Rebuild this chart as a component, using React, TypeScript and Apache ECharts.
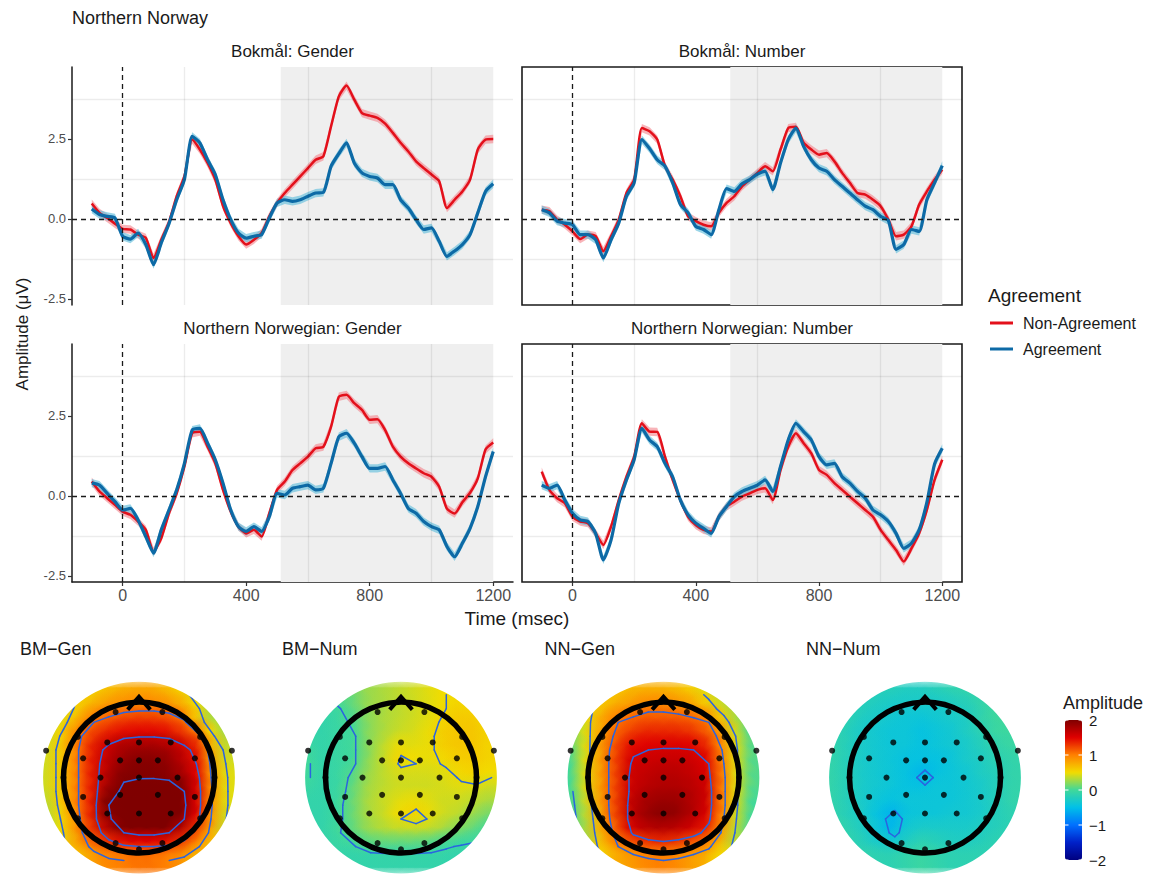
import React, { useEffect, useRef } from 'react';
import * as echarts from 'echarts';

const FONT = '"Liberation Sans", Arial, Helvetica, sans-serif';

// ---------- ERP data ----------
const timeMs = [-100,-75,-50,-25,0,25,50,75,100,125,150,175,200,225,250,275,300,325,350,375,400,425,450,475,500,525,550,575,600,625,650,675,700,725,750,775,800,825,850,875,900,925,950,975,1000,1025,1050,1075,1100,1125,1150,1175,1200];

const bmGenderNonAgreement = [0.48,0.19,0.03,-0.15,-0.31,-0.33,-0.49,-0.59,-1.22,-0.65,-0.1,0.71,1.33,2.48,2.17,1.75,1.23,0.4,-0.13,-0.54,-0.8,-0.65,-0.44,0.08,0.5,0.81,1.07,1.33,1.59,1.85,1.96,2.9,3.83,4.17,3.73,3.31,3.23,3.16,2.98,2.69,2.38,2.11,1.8,1.59,1.39,1.18,0.34,0.6,0.86,1.23,2.17,2.48,2.5];
const bmGenderAgreement = [0.31,0.14,0.08,0.03,-0.54,-0.63,-0.44,-0.8,-1.43,-0.75,-0.15,0.6,1.23,2.58,2.38,1.85,1.39,0.6,-0.02,-0.44,-0.6,-0.54,-0.49,0.03,0.5,0.6,0.55,0.6,0.71,0.81,0.83,1.65,2.04,2.38,1.75,1.44,1.33,1.28,1.07,1.07,0.6,0.34,-0.02,-0.33,-0.28,-0.7,-1.17,-1.0,-0.8,-0.49,0.19,0.86,1.1];

const bmNumberNonAgreement = [0.29,0.24,-0.02,-0.18,-0.39,-0.63,-0.49,-0.54,-1.01,-0.54,-0.02,0.81,1.23,2.84,2.74,2.48,1.65,1.23,0.71,0.08,-0.07,-0.18,-0.23,0.19,0.5,0.71,1.02,1.23,1.44,1.65,1.49,2.17,2.84,2.88,2.38,2.17,2.01,2.06,1.8,1.44,1.13,0.81,0.76,0.6,0.4,-0.02,-0.54,-0.49,-0.23,0.45,0.86,1.23,1.54];
const bmNumberAgreement = [0.29,0.19,-0.07,-0.13,-0.18,-0.49,-0.49,-0.65,-1.22,-0.65,-0.13,0.71,1.13,2.48,2.2,1.85,1.65,1.13,0.45,0.19,-0.23,-0.33,-0.49,0.29,0.95,0.86,1.1,1.23,1.4,1.49,0.92,1.75,2.48,2.84,2.27,1.85,1.59,1.49,1.23,1.02,0.81,0.6,0.4,0.29,0.08,-0.05,-0.95,-0.8,-0.33,-0.39,0.6,1.13,1.67];

const nnGenderNonAgreement = [0.45,0.14,-0.07,-0.28,-0.49,-0.59,-0.8,-1.06,-1.74,-1.32,-0.54,0.08,0.92,1.96,2.01,1.54,1.02,0.19,-0.49,-0.96,-1.17,-1.06,-1.27,-0.54,0.19,0.45,0.81,1.02,1.23,1.49,1.54,2.17,3.1,3.16,2.9,2.69,2.38,2.4,2.06,1.54,1.23,1.02,0.86,0.71,0.6,0.29,-0.4,-0.55,-0.2,0.1,0.55,1.45,1.67];
const nnGenderAgreement = [0.4,0.34,0.08,-0.18,-0.44,-0.39,-0.75,-1.27,-1.79,-1.06,-0.44,0.19,1.02,2.06,2.11,1.65,1.13,0.4,-0.44,-0.96,-1.11,-0.96,-1.11,-0.65,0.08,0.03,0.24,0.29,0.34,0.19,0.24,1.02,1.85,1.96,1.65,1.23,0.86,0.86,0.92,0.5,0.08,-0.39,-0.54,-0.8,-0.96,-1.06,-1.58,-1.9,-1.48,-1.01,-0.33,0.6,1.39];

const nnNumberNonAgreement = [0.76,0.19,-0.07,-0.23,-0.65,-0.8,-0.85,-1.17,-1.53,-0.96,-0.13,0.6,1.23,2.27,2.01,2.0,1.23,0.5,-0.13,-0.65,-0.91,-1.06,-1.11,-0.65,-0.33,-0.18,-0.02,0.08,0.19,0.24,-0.13,0.81,1.54,1.96,1.65,1.33,0.81,0.66,0.4,0.19,-0.02,-0.23,-0.44,-0.65,-1.06,-1.38,-1.69,-2.05,-1.64,-1.17,-0.44,0.5,1.13];
const nnNumberAgreement = [0.34,0.24,0.34,-0.13,-0.54,-0.75,-0.8,-1.17,-2.0,-1.38,-0.23,0.5,1.13,2.11,1.75,1.54,1.02,0.6,-0.13,-0.59,-0.85,-1.01,-1.17,-0.65,-0.33,-0.02,0.14,0.24,0.34,0.5,0.14,0.92,1.75,2.27,2.01,1.75,1.23,0.97,1.02,0.6,0.4,0.14,-0.07,-0.44,-0.59,-0.8,-1.17,-1.64,-1.48,-1.06,-0.2,1.0,1.49];

const ciHalfWidth = 0.13;
const shadeStart = 512;
const shadeEnd = 1200;
const xTicks = [0, 400, 800, 1200];
const yTicks = [-2.5, 0, 2.5];
const xGridLines = [200, 600, 1000];
const yGridLines = [-1.25, 1.25, 3.75];

const panelTitles = ['Bokmål: Gender', 'Bokmål: Number', 'Northern Norwegian: Gender', 'Northern Norwegian: Number'];
const legendNames = ['Non-Agreement', 'Agreement'];

const topoGridX = [-1.2,-1.0,-0.8,-0.6,-0.4,-0.2,0,0.2,0.4,0.6,0.8,1.0,1.2];
const topoGridY = [1.2,1.0,0.8,0.6,0.4,0.2,0,-0.2,-0.4,-0.6,-0.8,-1.0,-1.2];

const bmGenTopo = [
  [0.3,0.4,0.5,0.55,0.65,0.75,0.8,0.8,0.7,0.55,0.4,0.3,0.2],
  [0.3,0.4,0.55,0.7,0.85,0.92,0.95,0.95,0.9,0.75,0.5,0.25,0.15],
  [0.3,0.45,0.65,1.0,1.1,1.2,1.25,1.25,1.2,1.05,0.6,0.3,0.15],
  [0.35,0.55,0.95,1.2,1.35,1.45,1.48,1.48,1.45,1.3,1.05,0.5,0.25],
  [0.4,0.6,1.0,1.35,1.6,1.75,1.8,1.8,1.75,1.6,1.35,0.7,0.35],
  [0.4,0.6,1.0,1.4,1.65,1.85,1.95,1.95,1.9,1.7,1.45,0.8,0.4],
  [0.4,0.6,1.0,1.4,1.7,1.95,1.98,1.98,1.95,1.8,1.5,0.85,0.45],
  [0.4,0.6,1.0,1.4,1.8,2.1,2.2,2.25,2.2,2.0,1.55,0.9,0.45],
  [0.35,0.6,1.0,1.4,2.0,2.25,2.35,2.35,2.3,2.05,1.55,0.9,0.45],
  [0.3,0.55,0.95,1.4,1.95,2.25,2.35,2.35,2.25,2.0,1.5,0.85,0.4],
  [0.25,0.5,0.9,1.3,1.7,2.0,2.1,2.1,2.0,1.75,1.3,0.8,0.35],
  [0.2,0.45,0.8,1.1,1.3,1.45,1.5,1.5,1.45,1.3,1.0,0.65,0.3],
  [0.2,0.4,0.6,0.8,0.95,1.0,1.05,1.05,1.0,0.9,0.7,0.5,0.3],
];
const bmNumTopo = [
  [-0.05,0.0,0.05,0.15,0.25,0.3,0.35,0.4,0.45,0.5,0.5,0.45,0.4],
  [-0.1,-0.05,0.0,0.1,0.25,0.3,0.35,0.4,0.45,0.5,0.55,0.5,0.45],
  [-0.1,-0.1,-0.05,0.05,0.2,0.3,0.35,0.4,0.45,0.55,0.6,0.6,0.5],
  [-0.1,-0.1,-0.05,0.0,0.2,0.3,0.38,0.42,0.48,0.58,0.62,0.62,0.55],
  [-0.05,-0.1,-0.05,0.0,0.2,0.35,0.48,0.45,0.48,0.58,0.62,0.62,0.55],
  [0.0,-0.1,-0.05,0.0,0.2,0.38,0.53,0.5,0.47,0.52,0.58,0.6,0.55],
  [0.0,-0.1,-0.05,0.05,0.25,0.35,0.42,0.42,0.42,0.45,0.52,0.55,0.5],
  [-0.05,-0.1,-0.05,0.1,0.28,0.35,0.4,0.4,0.4,0.42,0.45,0.45,0.4],
  [-0.1,-0.1,-0.02,0.12,0.3,0.38,0.45,0.48,0.45,0.4,0.4,0.35,0.3],
  [-0.1,-0.1,-0.02,0.12,0.3,0.38,0.5,0.55,0.48,0.4,0.35,0.25,0.15],
  [-0.1,-0.1,0.0,0.1,0.25,0.33,0.38,0.4,0.38,0.3,0.2,0.1,0.0],
  [-0.1,-0.1,-0.05,0.0,0.08,0.1,0.1,0.1,0.08,0.02,-0.02,-0.05,-0.1],
  [-0.1,-0.1,-0.1,-0.1,-0.1,-0.1,-0.1,-0.1,-0.1,-0.1,-0.12,-0.12,-0.15],
];
const nnGenTopo = [
  [0.35,0.45,0.55,0.6,0.7,0.75,0.75,0.7,0.6,0.45,0.3,0.15,0.0],
  [0.3,0.45,0.6,0.75,0.85,0.95,0.95,0.9,0.8,0.6,0.4,0.2,0.0],
  [0.2,0.45,0.75,1.0,1.1,1.15,1.15,1.15,1.1,1.0,0.6,0.3,0.0],
  [0.1,0.45,0.8,1.1,1.25,1.35,1.35,1.35,1.3,1.15,0.85,0.4,0.0],
  [0.05,0.45,0.85,1.2,1.45,1.5,1.52,1.52,1.5,1.35,0.95,0.45,0.05],
  [0.0,0.45,0.85,1.25,1.55,1.6,1.62,1.62,1.6,1.5,1.0,0.45,0.05],
  [0.0,0.45,0.85,1.25,1.6,1.65,1.7,1.7,1.65,1.55,1.05,0.45,0.05],
  [0.0,0.45,0.85,1.25,1.6,1.7,1.75,1.75,1.7,1.6,1.05,0.45,0.05],
  [-0.05,0.4,0.85,1.25,1.65,1.8,1.85,1.85,1.75,1.6,1.05,0.45,0.0],
  [-0.1,0.35,0.8,1.25,1.65,1.85,1.95,1.9,1.75,1.55,1.0,0.4,0.0],
  [-0.1,0.3,0.75,1.15,1.55,1.7,1.75,1.7,1.6,1.4,0.9,0.35,-0.05],
  [-0.05,0.25,0.65,1.0,1.2,1.3,1.35,1.3,1.2,1.05,0.7,0.3,-0.05],
  [0.0,0.2,0.5,0.75,0.85,0.95,1.0,0.95,0.85,0.75,0.5,0.2,0.0],
];
const nnNumTopo = [
  [-0.1,-0.1,-0.15,-0.2,-0.2,-0.25,-0.25,-0.2,-0.15,-0.1,-0.05,-0.03,-0.03],
  [-0.1,-0.15,-0.2,-0.25,-0.3,-0.3,-0.3,-0.3,-0.25,-0.2,-0.1,-0.02,-0.02],
  [-0.1,-0.15,-0.25,-0.3,-0.35,-0.4,-0.4,-0.35,-0.3,-0.25,-0.1,-0.02,-0.02],
  [-0.1,-0.2,-0.3,-0.35,-0.4,-0.4,-0.45,-0.4,-0.35,-0.25,-0.15,-0.03,-0.03],
  [-0.1,-0.2,-0.3,-0.35,-0.4,-0.4,-0.45,-0.4,-0.35,-0.3,-0.2,-0.1,-0.05],
  [-0.1,-0.2,-0.3,-0.35,-0.4,-0.45,-0.45,-0.45,-0.4,-0.3,-0.25,-0.15,-0.1],
  [-0.1,-0.2,-0.3,-0.35,-0.4,-0.45,-0.56,-0.45,-0.4,-0.35,-0.25,-0.2,-0.1],
  [-0.1,-0.2,-0.3,-0.35,-0.4,-0.45,-0.45,-0.4,-0.4,-0.35,-0.3,-0.2,-0.1],
  [-0.1,-0.2,-0.3,-0.4,-0.45,-0.4,-0.4,-0.4,-0.4,-0.35,-0.3,-0.2,-0.1],
  [-0.1,-0.2,-0.3,-0.45,-0.58,-0.42,-0.4,-0.4,-0.35,-0.35,-0.3,-0.2,-0.15],
  [-0.05,-0.15,-0.25,-0.4,-0.56,-0.35,-0.3,-0.3,-0.3,-0.3,-0.25,-0.2,-0.15],
  [-0.03,-0.1,-0.2,-0.3,-0.35,-0.25,-0.15,-0.2,-0.25,-0.25,-0.2,-0.15,-0.1],
  [-0.03,-0.05,-0.1,-0.15,-0.15,-0.1,-0.05,-0.1,-0.15,-0.15,-0.15,-0.1,-0.1],
];

const topoTitles = ['BM\u2212Gen', 'BM\u2212Num', 'NN\u2212Gen', 'NN\u2212Num'];
const topoValues = [bmGenTopo, bmNumTopo, nnGenTopo, nnNumTopo];
const contourLevels = [-1.5, -1, -0.5, 0, 0.5, 1, 1.5, 2];

const electrodeX = [-0.31,0.31,-0.81,0.81,-1,1,-0.81,0.81,-0.31,0,0.31,-1.23,1.23,-0.42,0,0.42,-0.74,-0.25,0,0.25,0.74,-0.51,0,0.51,-0.74,-0.25,0.25,0.74,-0.42,0,0.42];
const electrodeY = [0.95,0.95,0.59,0.59,0,0,-0.59,-0.59,-0.95,-1.04,-0.95,0.39,0.39,0.51,0.51,0.51,0.28,0.25,0.25,0.25,0.28,0,0,0,-0.28,-0.25,-0.25,-0.28,-0.52,-0.52,-0.52];

const colorbarTicks = [2, 1, 0, -1, -2];
const topoPalette = ['#00007f', '#0020c8', '#0070ff', '#00c0e8', '#40d89a', '#f2dc00', '#ff8000', '#e00000', '#7f0000'];

// ---------- styling / layout ----------
const RED = '#e3101b';
const BLUE = '#0d6aa6';
const RED_BAND = 'rgba(244,130,138,0.6)';
const BLUE_BAND = 'rgba(100,190,220,0.65)';
const CONTOUR = '#2a64e0';

const panelLayout = [
  { left: 72, top: 67, width: 441, height: 238, box: false, bottomAxis: false, leftAxis: true },
  { left: 522, top: 67, width: 440, height: 238, box: true, bottomAxis: false, leftAxis: false },
  { left: 72, top: 344, width: 441, height: 238, box: false, bottomAxis: true, leftAxis: true },
  { left: 522, top: 344, width: 440, height: 238, box: true, bottomAxis: true, leftAxis: false },
];
const topoCentersX = [139, 401, 663.5, 925];
const topoCenterY = 788;
const topoScale = 75.5;
const topoExtent = 1.6;
const cellStep = 0.2;

function txt(text: string, x: number, y: number, size: number, opts: any = {}) {
  return {
    type: 'text', x, y, rotation: opts.rotation || 0, z: 100, silent: true,
    style: {
      text, fontSize: size, fontFamily: FONT, fill: opts.color || '#1a1a1a',
      textAlign: opts.align || 'left', textVerticalAlign: 'middle',
    },
  };
}

// marching squares on the read grid -> segments [x1, y1, x2, y2]
function contourSegments(grid: number[][], level: number): number[][] {
  const segs: number[][] = [];
  const lerp = (a: number, b: number, va: number, vb: number) => a + ((level - va) / (vb - va)) * (b - a);
  for (let r = 0; r < topoGridY.length - 1; r++) {
    for (let c = 0; c < topoGridX.length - 1; c++) {
      const x0 = topoGridX[c], x1 = topoGridX[c + 1], y0 = topoGridY[r], y1 = topoGridY[r + 1];
      const v0 = grid[r][c], v1 = grid[r][c + 1], v2 = grid[r + 1][c + 1], v3 = grid[r + 1][c];
      const a0 = v0 >= level, a1 = v1 >= level, a2 = v2 >= level, a3 = v3 >= level;
      const e: (number[] | null)[] = [null, null, null, null];
      if (a0 !== a1) e[0] = [lerp(x0, x1, v0, v1), y0];
      if (a1 !== a2) e[1] = [x1, lerp(y0, y1, v1, v2)];
      if (a3 !== a2) e[2] = [lerp(x0, x1, v3, v2), y1];
      if (a0 !== a3) e[3] = [x0, lerp(y0, y1, v0, v3)];
      const pts = e.filter((p) => p) as number[][];
      if (pts.length === 2) {
        segs.push([pts[0][0], pts[0][1], pts[1][0], pts[1][1]]);
      } else if (pts.length === 4) {
        const center = (v0 + v1 + v2 + v3) / 4 >= level;
        const pairs = center === a0 ? [[0, 1], [2, 3]] : [[3, 0], [1, 2]];
        pairs.forEach(([i, j]) => segs.push([e[i]![0], e[i]![1], e[j]![0], e[j]![1]]));
      }
    }
  }
  return segs;
}

function buildOption() {
  const panelData = [
    [bmGenderNonAgreement, bmGenderAgreement],
    [bmNumberNonAgreement, bmNumberAgreement],
    [nnGenderNonAgreement, nnGenderAgreement],
    [nnNumberNonAgreement, nnNumberAgreement],
  ];
  const grids: any[] = [];
  const xAxes: any[] = [];
  const yAxes: any[] = [];
  const series: any[] = [];
  const graphics: any[] = [];
  const cellSeriesIdx: number[] = [];

  panelLayout.forEach((p, i) => {
    grids.push({ left: p.left, top: p.top, width: p.width, height: p.height, show: p.box, borderColor: '#1a1a1a', borderWidth: 1.6, backgroundColor: 'transparent', containLabel: false });
    xAxes.push({
      type: 'value', gridIndex: i, min: -164, max: 1264,
      splitLine: { show: false },
      axisLine: { show: p.bottomAxis && !p.box, onZero: false, lineStyle: { color: '#1a1a1a', width: 1.5 } },
      axisTick: { show: p.bottomAxis, customValues: xTicks, length: 4, lineStyle: { color: '#333', width: 1.2 } },
      axisLabel: { show: p.bottomAxis, customValues: xTicks, margin: 5, fontSize: 16, color: '#4d4d4d', fontFamily: FONT, formatter: (v: number) => String(v) },
    });
    yAxes.push({
      type: 'value', gridIndex: i, min: -2.69, max: 4.75,
      splitLine: { show: false },
      axisLine: { show: p.leftAxis && !p.box, onZero: false, lineStyle: { color: '#1a1a1a', width: 1.5 } },
      axisTick: { show: p.leftAxis, customValues: yTicks, length: 4, lineStyle: { color: '#333', width: 1.2 } },
      axisLabel: { show: p.leftAxis, customValues: yTicks, margin: 6, fontSize: 13, color: '#4d4d4d', fontFamily: FONT, formatter: (v: number) => v.toFixed(1) },
    });
    const gridLineStyle = { color: 'rgba(0,0,0,0.075)', width: 1.4, type: 'solid' };
    const dashStyle = { color: '#1a1a1a', width: 1.3, type: [5, 4] };
    series.push({
      type: 'line', xAxisIndex: i, yAxisIndex: i, data: [], silent: true, z: 1,
      markArea: { silent: true, itemStyle: { color: '#efefef' }, data: [[{ xAxis: shadeStart }, { xAxis: shadeEnd }]] },
      markLine: {
        silent: true, symbol: ['none', 'none'], label: { show: false }, animation: false,
        data: [
          ...xGridLines.map((v) => ({ xAxis: v, lineStyle: gridLineStyle })),
          ...yGridLines.map((v) => ({ yAxis: v, lineStyle: gridLineStyle })),
          { xAxis: 0, lineStyle: dashStyle },
          { yAxis: 0, lineStyle: dashStyle },
        ],
      },
    });
    const [non, agr] = panelData[i];
    const band = (vals: number[], color: string) => ({
      type: 'custom', xAxisIndex: i, yAxisIndex: i, silent: true, z: 2,
      data: [[timeMs[0], vals[0]]], encode: { x: 0, y: 1 },
      renderItem: (params: any, api: any) => {
        const upper = timeMs.map((t, k) => api.coord([t, vals[k] + ciHalfWidth]));
        const lower = timeMs.map((t, k) => api.coord([t, vals[k] - ciHalfWidth])).reverse();
        return { type: 'polygon', shape: { points: upper.concat(lower) }, style: { fill: color } };
      },
    });
    series.push(band(non, RED_BAND));
    series.push(band(agr, BLUE_BAND));
    series.push({
      type: 'line', name: legendNames[0], xAxisIndex: i, yAxisIndex: i, data: timeMs.map((t, k) => [t, non[k]]),
      symbol: 'none', smooth: 0.2, lineStyle: { color: RED, width: 2.5 }, itemStyle: { color: RED }, z: 3, silent: true,
    });
    series.push({
      type: 'line', name: legendNames[1], xAxisIndex: i, yAxisIndex: i, data: timeMs.map((t, k) => [t, agr[k]]),
      symbol: 'none', smooth: 0.2, lineStyle: { color: BLUE, width: 3.2 }, itemStyle: { color: BLUE }, z: 4, silent: true,
    });
    graphics.push(txt(panelTitles[i], p.left + p.width / 2, p.top - 16, 17, { align: 'center' }));
  });

  // topographic maps
  topoCentersX.forEach((cx, k) => {
    const gi = 4 + k;
    const size = topoExtent * 2 * topoScale;
    grids.push({ left: cx - size / 2, top: topoCenterY - size / 2, width: size, height: size, show: false });
    xAxes.push({ type: 'value', gridIndex: gi, min: -topoExtent, max: topoExtent, show: false });
    yAxes.push({ type: 'value', gridIndex: gi, min: -topoExtent, max: topoExtent, show: false });
    const cells: number[][] = [];
    topoGridY.forEach((gy, r) => {
      topoGridX.forEach((gx, c) => {
        if (Math.sqrt(gx * gx + gy * gy) <= 1.45) cells.push([gx, gy, topoValues[k][r][c]]);
      });
    });
    // base cells
    cellSeriesIdx.push(series.length);
    series.push({
      type: 'custom', xAxisIndex: gi, yAxisIndex: gi, data: cells, encode: { x: 0, y: 1 }, z: 1, silent: true,
      renderItem: (params: any, api: any) => {
        const c = api.coord([api.value(0), api.value(1)]);
        const s = api.size([cellStep, cellStep]);
        return { type: 'rect', shape: { x: c[0] - s[0] / 2 - 0.5, y: c[1] - s[1] / 2 - 0.5, width: s[0] + 1, height: s[1] + 1 }, style: { fill: api.visual('color') } };
      },
    });
    // soft overlay of the same cells (blends cell edges)
    cellSeriesIdx.push(series.length);
    series.push({
      type: 'custom', xAxisIndex: gi, yAxisIndex: gi, data: cells, encode: { x: 0, y: 1 }, z: 1, silent: true,
      renderItem: (params: any, api: any) => {
        const c = api.coord([api.value(0), api.value(1)]);
        const s = api.size([cellStep, cellStep]);
        const col = api.visual('color');
        const fill = new echarts.graphic.RadialGradient(0.5, 0.5, 0.5, [
          { offset: 0, color: col },
          { offset: 0.3, color: echarts.color.modifyAlpha(col, 0.85) },
          { offset: 1, color: echarts.color.modifyAlpha(col, 0) },
        ]);
        return { type: 'circle', shape: { cx: c[0], cy: c[1], r: s[0] * 1.35 }, style: { fill } };
      },
    });
    // contour lines
    const segs: number[][] = [];
    contourLevels.forEach((lv) => segs.push(...contourSegments(topoValues[k], lv)));
    series.push({
      type: 'custom', xAxisIndex: gi, yAxisIndex: gi, data: segs, encode: { x: [0, 2], y: [1, 3] }, z: 1, silent: true,
      renderItem: (params: any, api: any) => {
        const a = api.coord([api.value(0), api.value(1)]);
        const b = api.coord([api.value(2), api.value(3)]);
        return { type: 'line', shape: { x1: a[0], y1: a[1], x2: b[0], y2: b[1] }, style: { stroke: CONTOUR, lineWidth: 1.5, lineCap: 'round' } };
      },
    });
    series.push({
      type: 'custom', xAxisIndex: gi, yAxisIndex: gi, data: [[0, 0]], encode: { x: 0, y: 1 }, z: 2, silent: true,
      renderItem: (params: any, api: any) => {
        const c = api.coord([api.value(0), api.value(1)]);
        const s = api.size([1, 1]);
        return { type: 'ring', shape: { cx: c[0], cy: c[1], r: s[0] * 1.7, r0: s[0] * 1.27 }, style: { fill: '#ffffff' } };
      },
    });
    series.push({
      type: 'custom', xAxisIndex: gi, yAxisIndex: gi, data: [[0, 0]], encode: { x: 0, y: 1 }, z: 3, silent: true,
      renderItem: (params: any, api: any) => {
        const c = api.coord([api.value(0), api.value(1)]);
        const s = api.size([1, 1]);
        return {
          type: 'group',
          children: [
            { type: 'circle', shape: { cx: c[0], cy: c[1], r: s[0] }, style: { fill: 'none', stroke: '#000', lineWidth: 5.5 } },
            {
              type: 'polyline',
              shape: { points: [api.coord([-0.15, 0.985]), api.coord([0, 1.17]), api.coord([0.15, 0.985])] },
              style: { fill: 'none', stroke: '#000', lineWidth: 4, lineJoin: 'miter' },
            },
          ],
        };
      },
    });
    series.push({
      type: 'scatter', xAxisIndex: gi, yAxisIndex: gi, data: electrodeX.map((x, i) => [x, electrodeY[i]]),
      symbolSize: 6, itemStyle: { color: '#000' }, z: 4, silent: true,
    });
    graphics.push(txt(topoTitles[k], cx - 119, 649, 18));
  });

  // colorbar ticks and labels
  const cbLeft = 1065, cbTop = 720, cbW = 17, cbH = 140;
  colorbarTicks.forEach((v) => {
    const y = cbTop + ((2 - v) / 4) * cbH;
    graphics.push(txt(v < 0 ? '\u2212' + Math.abs(v) : String(v), cbLeft + cbW + 7, y, 15));
    graphics.push({ type: 'line', z: 101, silent: true, shape: { x1: cbLeft, y1: y, x2: cbLeft + 3.5, y2: y }, style: { stroke: '#fff', lineWidth: 1 } });
    graphics.push({ type: 'line', z: 101, silent: true, shape: { x1: cbLeft + cbW - 3.5, y1: y, x2: cbLeft + cbW, y2: y }, style: { stroke: '#fff', lineWidth: 1 } });
  });
  graphics.push(txt('Amplitude', 1063, 703, 18));

  graphics.push(txt('Northern Norway', 72, 18, 18));
  graphics.push(txt('Amplitude (\u03bcV)', 22, 334, 17, { rotation: Math.PI / 2, align: 'center' }));
  graphics.push(txt('Time (msec)', 517, 618, 19, { align: 'center' }));
  graphics.push(txt('Agreement', 988, 295, 19));

  return {
    animation: false,
    backgroundColor: '#ffffff',
    textStyle: { fontFamily: FONT },
    grid: grids,
    xAxis: xAxes,
    yAxis: yAxes,
    legend: {
      data: legendNames, left: 990, top: 315, orient: 'vertical', icon: 'rect', itemWidth: 23, itemHeight: 3,
      itemGap: 10, padding: 0, selectedMode: false,
      textStyle: { fontSize: 16, color: '#1a1a1a', fontFamily: FONT, padding: [0, 0, 0, 5] },
    },
    visualMap: {
      type: 'continuous', min: -2, max: 2, dimension: 2, seriesIndex: cellSeriesIdx,
      inRange: { color: topoPalette }, left: cbLeft, top: cbTop, itemWidth: cbW, itemHeight: cbH,
      calculable: false, show: true, padding: 0, showLabel: false,
    },
    graphic: { elements: graphics },
    series,
  };
}

export default function App() {
  const ref = useRef<HTMLDivElement>(null);
  useEffect(() => {
    const chart = echarts.init(ref.current as HTMLDivElement, null, { renderer: 'svg' });
    chart.setOption(buildOption() as any);
    return () => chart.dispose();
  }, []);
  return <div ref={ref} style={{ position: 'absolute', left: 0, top: 0, width: 1151, height: 888, background: '#fff' }} />;
}
